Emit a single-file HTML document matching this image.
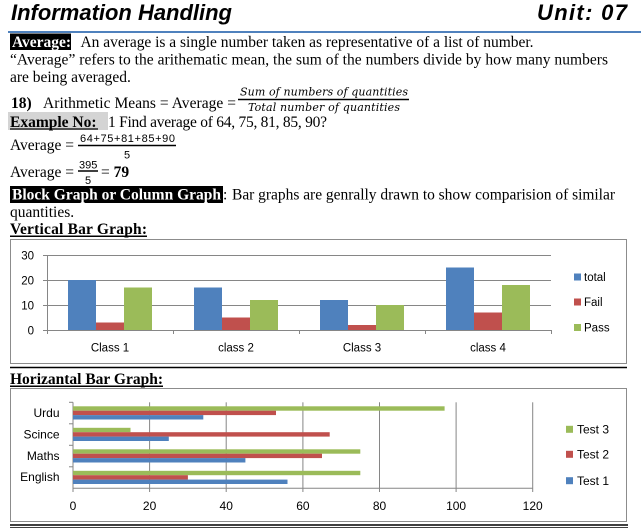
<!DOCTYPE html>
<html>
<head>
<meta charset="utf-8">
<style>
html,body{margin:0;padding:0;background:#fff;}
svg{display:block;}
.serif{font-family:"Liberation Serif",serif;font-size:15.5px;fill:#000;}
.b{font-weight:bold;}
.sans{font-family:"Liberation Sans",sans-serif;font-size:11.5px;fill:#000;}
.frac{font-family:"DejaVu Serif",serif;font-style:italic;font-size:11px;fill:#000;}
.title{font-family:"Liberation Sans",sans-serif;font-weight:bold;font-style:italic;font-size:22px;fill:#000;}
</style>
</head>
<body>
<svg width="641" height="528" viewBox="0 0 641 528" xmlns="http://www.w3.org/2000/svg">
<!-- Header -->
<text class="title" x="11" y="20" textLength="221" lengthAdjust="spacing">Information Handling</text>
<text class="title" x="537" y="20" textLength="90" lengthAdjust="spacing">Unit: 07</text>
<line x1="8" y1="32" x2="641" y2="32" stroke="#4f81bd" stroke-width="2"/>

<!-- Row 1 -->
<rect x="10" y="33.5" width="61" height="16.5" fill="#000"/>
<text class="serif b" x="12" y="47" style="fill:#fff">Average:</text>
<text class="serif" x="80.5" y="47" textLength="453" lengthAdjust="spacing">An average is a single number taken as representative of a list of number.</text>
<!-- Row 2 -->
<text class="serif" x="10" y="64.5" textLength="598" lengthAdjust="spacing">“Average” refers to the arithematic mean, the sum of the numbers divide by how many numbers</text>
<!-- Row 3 -->
<text class="serif" x="10" y="82">are being averaged.</text>
<!-- Row 4 -->
<text class="serif b" x="11" y="108">18)</text>
<text class="serif" x="43" y="108" textLength="193" lengthAdjust="spacing">Arithmetic Means = Average =</text>
<text class="frac" x="240" y="95.5" textLength="168" lengthAdjust="spacing">Sum of numbers of quantities</text>
<line x1="238" y1="99.5" x2="409" y2="99.5" stroke="#000" stroke-width="1.6"/>
<text class="frac" x="248" y="111" textLength="152" lengthAdjust="spacing">Total number of quantities</text>

<!-- Example -->
<rect x="8" y="112" width="100" height="18" fill="#d4d4d4"/>
<text class="serif b" x="10" y="127">Example No:</text>
<line x1="10" y1="129" x2="98" y2="129" stroke="#000" stroke-width="1.2"/>
<text class="serif" x="108" y="127" textLength="219" lengthAdjust="spacing"> 1 Find average of 64, 75, 81, 85, 90?</text>

<text class="serif" x="10" y="150">Average =</text>
<text class="sans" x="80" y="142" textLength="95" lengthAdjust="spacing" style="font-size:11px">64+75+81+85+90</text>
<line x1="78" y1="145.5" x2="176" y2="145.5" stroke="#000" stroke-width="1.6"/>
<text class="sans" x="124" y="158.5" style="font-size:11px">5</text>

<text class="serif" x="10" y="177">Average =</text>
<text class="sans" x="79" y="168.5" style="font-size:11px">395</text>
<line x1="78" y1="171" x2="98" y2="171" stroke="#000" stroke-width="1.6"/>
<text class="sans" x="85" y="184" style="font-size:11px">5</text>
<text class="serif" x="101" y="177">= <tspan style="font-weight:bold">79</tspan></text>

<!-- Block graph -->
<rect x="10" y="186" width="213" height="17" fill="#000"/>
<text class="serif b" x="12" y="199.5" style="fill:#fff" textLength="209" lengthAdjust="spacing">Block Graph or Column Graph</text>
<text class="serif" x="223" y="199.5">:</text>
<text class="serif" x="232" y="199.5" textLength="383" lengthAdjust="spacing">Bar graphs are genrally drawn to show comparision of similar</text>
<text class="serif" x="10" y="217">quantities.</text>
<text class="serif b" x="10" y="233.8" textLength="137" lengthAdjust="spacing">Vertical Bar Graph:</text>
<line x1="10" y1="236.3" x2="147" y2="236.3" stroke="#000" stroke-width="1.5"/>

<!-- Vertical chart -->
<rect x="10.5" y="239.5" width="616" height="124" fill="#fff" stroke="#8c8c8c" stroke-width="1"/>
<g stroke="#868686" stroke-width="1">
  <line x1="43" y1="255.5" x2="551" y2="255.5"/>
  <line x1="43" y1="280.5" x2="551" y2="280.5"/>
  <line x1="43" y1="305.5" x2="551" y2="305.5"/>
  <line x1="43" y1="330.5" x2="551" y2="330.5"/>
  <line x1="47.5" y1="255" x2="47.5" y2="334"/>
  <line x1="173.5" y1="330" x2="173.5" y2="334"/>
  <line x1="299.5" y1="330" x2="299.5" y2="334"/>
  <line x1="425.5" y1="330" x2="425.5" y2="334"/>
  <line x1="551.5" y1="330" x2="551.5" y2="334"/>
</g>
<g>
  <rect x="68" y="280" width="28" height="50" fill="#4f81bd"/>
  <rect x="96" y="322.5" width="28" height="7.5" fill="#c0504d"/>
  <rect x="124" y="287.5" width="28" height="42.5" fill="#9bbb59"/>
  <rect x="194" y="287.5" width="28" height="42.5" fill="#4f81bd"/>
  <rect x="222" y="317.5" width="28" height="12.5" fill="#c0504d"/>
  <rect x="250" y="300" width="28" height="30" fill="#9bbb59"/>
  <rect x="320" y="300" width="28" height="30" fill="#4f81bd"/>
  <rect x="348" y="325" width="28" height="5" fill="#c0504d"/>
  <rect x="376" y="305" width="28" height="25" fill="#9bbb59"/>
  <rect x="446" y="267.5" width="28" height="62.5" fill="#4f81bd"/>
  <rect x="474" y="312.5" width="28" height="17.5" fill="#c0504d"/>
  <rect x="502" y="285" width="28" height="45" fill="#9bbb59"/>
</g>
<text class="sans" x="34" y="259.5" text-anchor="end">30</text>
<text class="sans" x="34" y="284.5" text-anchor="end">20</text>
<text class="sans" x="34" y="309.5" text-anchor="end">10</text>
<text class="sans" x="34" y="334.5" text-anchor="end">0</text>
<text class="sans" x="110" y="351.5" text-anchor="middle">Class 1</text>
<text class="sans" x="236" y="351.5" text-anchor="middle">class 2</text>
<text class="sans" x="362" y="351.5" text-anchor="middle">Class 3</text>
<text class="sans" x="488" y="351.5" text-anchor="middle">class 4</text>
<rect x="574" y="273.5" width="7" height="7" fill="#4f81bd"/>
<text class="sans" x="584" y="281">total</text>
<rect x="574" y="298.5" width="7" height="7" fill="#c0504d"/>
<text class="sans" x="584" y="306">Fail</text>
<rect x="574" y="324" width="7" height="7" fill="#9bbb59"/>
<text class="sans" x="584" y="331.5">Pass</text>

<!-- separator -->
<line x1="10" y1="367.5" x2="627" y2="367.5" stroke="#000" stroke-width="1.5"/>
<text class="serif b" x="10" y="384" textLength="153" lengthAdjust="spacing">Horizantal Bar Graph:</text>
<line x1="10" y1="386.3" x2="163" y2="386.3" stroke="#000" stroke-width="1.5"/>

<!-- Horizontal chart -->
<rect x="10.5" y="388.5" width="616" height="133" fill="#fff" stroke="#8c8c8c" stroke-width="1"/>
<g stroke="#868686" stroke-width="1">
  <line x1="149.6" y1="402.3" x2="149.6" y2="492"/>
  <line x1="226.2" y1="402.3" x2="226.2" y2="492"/>
  <line x1="302.9" y1="402.3" x2="302.9" y2="492"/>
  <line x1="379.5" y1="402.3" x2="379.5" y2="492"/>
  <line x1="456.1" y1="402.3" x2="456.1" y2="492"/>
  <line x1="532.7" y1="402.3" x2="532.7" y2="492"/>
  <line x1="73" y1="402.3" x2="73" y2="492"/>
  <line x1="73" y1="488.3" x2="532.7" y2="488.3"/>
  <line x1="69" y1="402.3" x2="73" y2="402.3"/>
  <line x1="69" y1="423.8" x2="73" y2="423.8"/>
  <line x1="69" y1="445.3" x2="73" y2="445.3"/>
  <line x1="69" y1="466.8" x2="73" y2="466.8"/>
</g>
<g>
  <rect x="73" y="406.3" width="371.6" height="4.4" fill="#9bbb59"/>
  <rect x="73" y="410.7" width="203" height="4.4" fill="#c0504d"/>
  <rect x="73" y="415.1" width="130.3" height="4.4" fill="#4f81bd"/>
  <rect x="73" y="427.8" width="57.5" height="4.4" fill="#9bbb59"/>
  <rect x="73" y="432.2" width="256.7" height="4.4" fill="#c0504d"/>
  <rect x="73" y="436.6" width="95.8" height="4.4" fill="#4f81bd"/>
  <rect x="73" y="449.3" width="287.3" height="4.4" fill="#9bbb59"/>
  <rect x="73" y="453.7" width="249" height="4.4" fill="#c0504d"/>
  <rect x="73" y="458.1" width="172.4" height="4.4" fill="#4f81bd"/>
  <rect x="73" y="470.8" width="287.3" height="4.4" fill="#9bbb59"/>
  <rect x="73" y="475.2" width="114.9" height="4.4" fill="#c0504d"/>
  <rect x="73" y="479.6" width="214.5" height="4.4" fill="#4f81bd"/>
</g>
<text class="sans" x="59.5" y="417" text-anchor="end" style="font-size:12px">Urdu</text>
<text class="sans" x="59.5" y="438.5" text-anchor="end" style="font-size:12px">Scince</text>
<text class="sans" x="59.5" y="460" text-anchor="end" style="font-size:12px">Maths</text>
<text class="sans" x="59.5" y="481" text-anchor="end" style="font-size:12px">English</text>
<text class="sans" x="73" y="510" text-anchor="middle" style="font-size:12px">0</text>
<text class="sans" x="149.6" y="510" text-anchor="middle" style="font-size:12px">20</text>
<text class="sans" x="226.2" y="510" text-anchor="middle" style="font-size:12px">40</text>
<text class="sans" x="302.9" y="510" text-anchor="middle" style="font-size:12px">60</text>
<text class="sans" x="379.5" y="510" text-anchor="middle" style="font-size:12px">80</text>
<text class="sans" x="456.1" y="510" text-anchor="middle" style="font-size:12px">100</text>
<text class="sans" x="532.7" y="510" text-anchor="middle" style="font-size:12px">120</text>
<rect x="566" y="425.8" width="7" height="7" fill="#9bbb59"/>
<text class="sans" x="577" y="433.5" style="font-size:12px">Test 3</text>
<rect x="566" y="450.8" width="7" height="7" fill="#c0504d"/>
<text class="sans" x="577" y="458.5" style="font-size:12px">Test 2</text>
<rect x="566" y="477.2" width="7" height="7" fill="#4f81bd"/>
<text class="sans" x="577" y="485" style="font-size:12px">Test 1</text>

<!-- bottom double line -->
<line x1="10" y1="525" x2="628" y2="525" stroke="#000" stroke-width="1.6"/>
<line x1="10" y1="527.5" x2="628" y2="527.5" stroke="#000" stroke-width="0.8"/>
</svg>
</body>
</html>
